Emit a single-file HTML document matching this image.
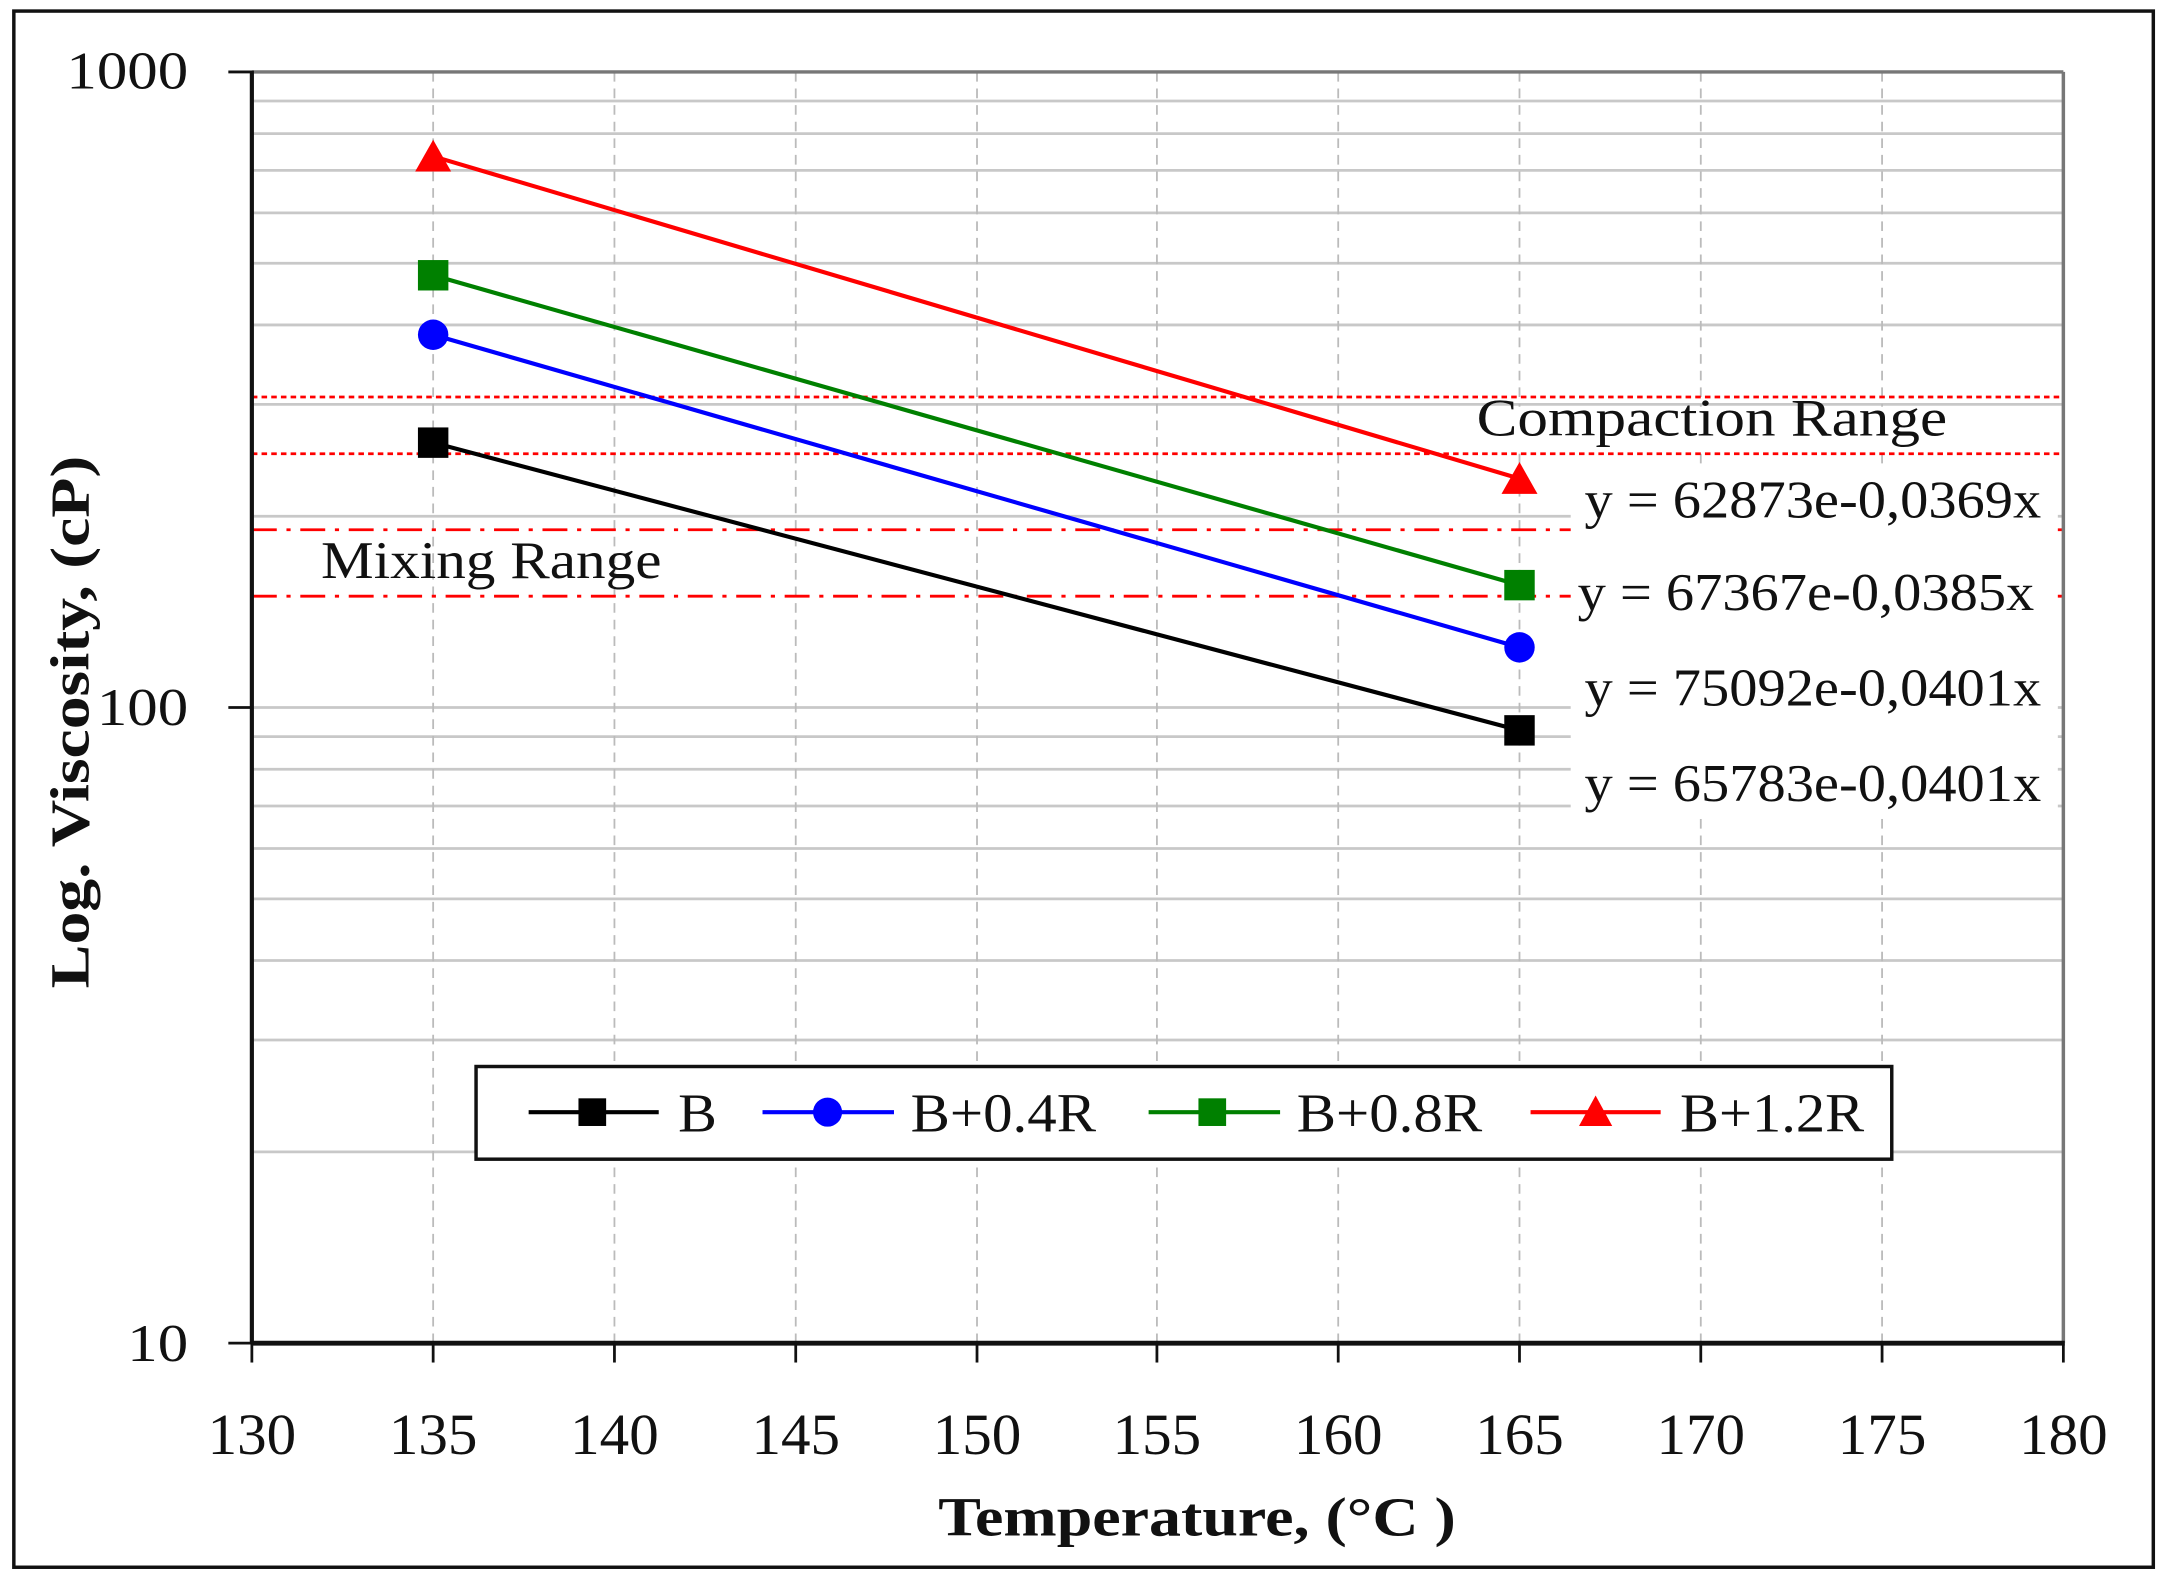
<!DOCTYPE html>
<html><head><meta charset="utf-8"><style>
html,body{margin:0;padding:0;background:#fff;}
svg{display:block;}
text{font-family:"Liberation Serif",serif;fill:#111;}
</style></head><body>
<svg width="2163" height="1588" viewBox="0 0 1563 1148" preserveAspectRatio="none" xmlns="http://www.w3.org/2000/svg">
<rect x="0" y="0" width="1563" height="1148" fill="#fff"/>
<rect x="10" y="8" width="1546" height="1125" fill="none" stroke="#111" stroke-width="2.5"/>
<g stroke="#c8c8c8" stroke-width="2">
<line x1="182" x2="1491" y1="832.7" y2="832.7"/>
<line x1="182" x2="1491" y1="751.8" y2="751.8"/>
<line x1="182" x2="1491" y1="694.4" y2="694.4"/>
<line x1="182" x2="1491" y1="649.8" y2="649.8"/>
<line x1="182" x2="1491" y1="613.4" y2="613.4"/>
<line x1="182" x2="1491" y1="582.7" y2="582.7"/>
<line x1="182" x2="1491" y1="556.1" y2="556.1"/>
<line x1="182" x2="1491" y1="532.5" y2="532.5"/>
<line x1="182" x2="1491" y1="511.5" y2="511.5"/>
<line x1="182" x2="1491" y1="373.2" y2="373.2"/>
<line x1="182" x2="1491" y1="292.3" y2="292.3"/>
<line x1="182" x2="1491" y1="234.9" y2="234.9"/>
<line x1="182" x2="1491" y1="190.3" y2="190.3"/>
<line x1="182" x2="1491" y1="153.9" y2="153.9"/>
<line x1="182" x2="1491" y1="123.2" y2="123.2"/>
<line x1="182" x2="1491" y1="96.6" y2="96.6"/>
<line x1="182" x2="1491" y1="73.0" y2="73.0"/>
</g>
<g stroke="#bbb" stroke-width="1.3" stroke-dasharray="7,5">
<line x1="313" x2="313" y1="52" y2="971"/>
<line x1="444" x2="444" y1="52" y2="971"/>
<line x1="575" x2="575" y1="52" y2="971"/>
<line x1="706" x2="706" y1="52" y2="971"/>
<line x1="836" x2="836" y1="52" y2="971"/>
<line x1="967" x2="967" y1="52" y2="971"/>
<line x1="1098" x2="1098" y1="52" y2="971"/>
<line x1="1229" x2="1229" y1="52" y2="971"/>
<line x1="1360" x2="1360" y1="52" y2="971"/>
</g>
<g stroke="#f00" stroke-width="2">
<line x1="182" x2="1491" y1="287" y2="287" stroke-dasharray="4,3"/>
<line x1="182" x2="1491" y1="328" y2="328" stroke-dasharray="4,3"/>
<line x1="182" x2="1491" y1="383" y2="383" stroke-dasharray="18,7,3,7"/>
<line x1="182" x2="1491" y1="431" y2="431" stroke-dasharray="18,7,3,7"/>
</g>
<rect x="1135" y="336" width="352" height="256" fill="#fff"/>
<rect x="1062" y="294" width="350" height="30" fill="#fff"/>
<line x1="182" x2="1491" y1="52" y2="52" stroke="#777" stroke-width="2.5"/>
<line x1="1491" x2="1491" y1="52" y2="971" stroke="#777" stroke-width="2.5"/>
<line x1="182" x2="182" y1="51" y2="972" stroke="#111" stroke-width="3"/>
<line x1="181" x2="1492" y1="971" y2="971" stroke="#111" stroke-width="3.5"/>
<g stroke="#111" stroke-width="2">
<line x1="165" x2="182" y1="52" y2="52"/>
<line x1="165" x2="182" y1="511.5" y2="511.5"/>
<line x1="165" x2="182" y1="971" y2="971"/>
<line x1="182" x2="182" y1="971" y2="985"/>
<line x1="313" x2="313" y1="971" y2="985"/>
<line x1="444" x2="444" y1="971" y2="985"/>
<line x1="575" x2="575" y1="971" y2="985"/>
<line x1="706" x2="706" y1="971" y2="985"/>
<line x1="836" x2="836" y1="971" y2="985"/>
<line x1="967" x2="967" y1="971" y2="985"/>
<line x1="1098" x2="1098" y1="971" y2="985"/>
<line x1="1229" x2="1229" y1="971" y2="985"/>
<line x1="1360" x2="1360" y1="971" y2="985"/>
<line x1="1491" x2="1491" y1="971" y2="985"/>
</g>
<g stroke-width="3" fill="none">
<line x1="313" y1="320" x2="1098" y2="528" stroke="#000"/>
<line x1="313" y1="242" x2="1098" y2="468" stroke="#0000ff"/>
<line x1="313" y1="199" x2="1098" y2="423" stroke="#008000"/>
<line x1="313" y1="113" x2="1098" y2="346" stroke="#ff0000"/>
</g>
<rect x="302" y="309" width="22" height="22" fill="#000"/>
<rect x="1087" y="517" width="22" height="22" fill="#000"/>
<circle cx="313" cy="242" r="11" fill="#0000ff"/>
<circle cx="1098" cy="468" r="11" fill="#0000ff"/>
<rect x="302" y="188" width="22" height="22" fill="#008000"/>
<rect x="1087" y="412" width="22" height="22" fill="#008000"/>
<polygon points="313,101 326,124 300,124" fill="#ff0000"/>
<polygon points="1098,334 1111,357 1085,357" fill="#ff0000"/>
<text x="1067" y="315" font-size="38" textLength="340" lengthAdjust="spacingAndGlyphs">Compaction Range</text>
<text x="232" y="418" font-size="38" textLength="246" lengthAdjust="spacingAndGlyphs">Mixing Range</text>
<g font-size="38">
<text x="1145" y="374" textLength="330" lengthAdjust="spacingAndGlyphs">y = 62873e-0,0369x</text>
<text x="1140" y="441" textLength="330" lengthAdjust="spacingAndGlyphs">y = 67367e-0,0385x</text>
<text x="1145" y="510" textLength="330" lengthAdjust="spacingAndGlyphs">y = 75092e-0,0401x</text>
<text x="1145" y="579" textLength="330" lengthAdjust="spacingAndGlyphs">y = 65783e-0,0401x</text>
</g>
<g font-size="38" text-anchor="end">
<text x="136" y="64" textLength="88" lengthAdjust="spacingAndGlyphs">1000</text>
<text x="136" y="524" textLength="66" lengthAdjust="spacingAndGlyphs">100</text>
<text x="136" y="984" textLength="44" lengthAdjust="spacingAndGlyphs">10</text>
</g>
<g font-size="42" text-anchor="middle">
<text x="182" y="1051" textLength="64" lengthAdjust="spacingAndGlyphs">130</text>
<text x="313" y="1051" textLength="64" lengthAdjust="spacingAndGlyphs">135</text>
<text x="444" y="1051" textLength="64" lengthAdjust="spacingAndGlyphs">140</text>
<text x="575" y="1051" textLength="64" lengthAdjust="spacingAndGlyphs">145</text>
<text x="706" y="1051" textLength="64" lengthAdjust="spacingAndGlyphs">150</text>
<text x="836" y="1051" textLength="64" lengthAdjust="spacingAndGlyphs">155</text>
<text x="967" y="1051" textLength="64" lengthAdjust="spacingAndGlyphs">160</text>
<text x="1098" y="1051" textLength="64" lengthAdjust="spacingAndGlyphs">165</text>
<text x="1229" y="1051" textLength="64" lengthAdjust="spacingAndGlyphs">170</text>
<text x="1360" y="1051" textLength="64" lengthAdjust="spacingAndGlyphs">175</text>
<text x="1491" y="1051" textLength="64" lengthAdjust="spacingAndGlyphs">180</text>
</g>
<text x="678" y="1110" font-size="40" font-weight="bold" textLength="374" lengthAdjust="spacingAndGlyphs">Temperature, (°C )</text>
<text transform="translate(64,522) rotate(-90)" text-anchor="middle" font-size="40" font-weight="bold" textLength="385" lengthAdjust="spacingAndGlyphs">Log. Viscosity, (cP)</text>
<rect x="344" y="771" width="1023" height="67" fill="#fff" stroke="#111" stroke-width="2.5"/>
<line x1="382" x2="476" y1="804" y2="804" stroke="#000" stroke-width="3"/>
<rect x="418" y="794" width="20" height="20" fill="#000"/>
<line x1="551" x2="646" y1="804" y2="804" stroke="#0000ff" stroke-width="3"/>
<circle cx="598" cy="804" r="10.5" fill="#0000ff"/>
<line x1="830" x2="925" y1="804" y2="804" stroke="#008000" stroke-width="3"/>
<rect x="866" y="794" width="20" height="20" fill="#008000"/>
<line x1="1106" x2="1200" y1="804" y2="804" stroke="#ff0000" stroke-width="3"/>
<polygon points="1153,792 1165,814 1141,814" fill="#ff0000"/>
<g font-size="40">
<text x="490" y="818" textLength="28" lengthAdjust="spacingAndGlyphs">B</text>
<text x="658" y="818" textLength="134" lengthAdjust="spacingAndGlyphs">B+0.4R</text>
<text x="937" y="818" textLength="134" lengthAdjust="spacingAndGlyphs">B+0.8R</text>
<text x="1214" y="818" textLength="133" lengthAdjust="spacingAndGlyphs">B+1.2R</text>
</g>
</svg>
</body></html>
